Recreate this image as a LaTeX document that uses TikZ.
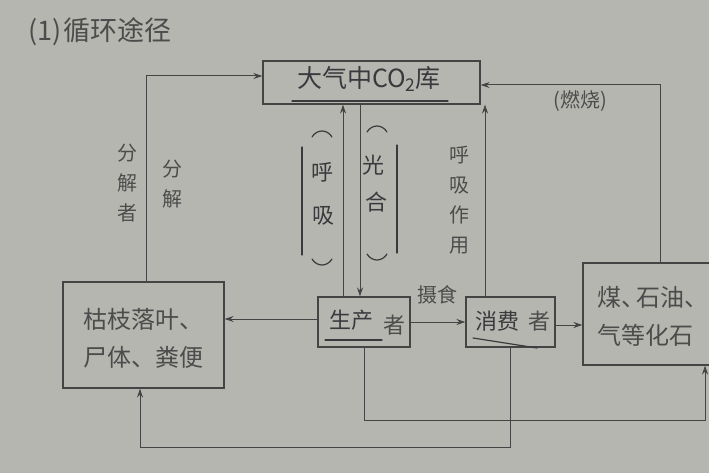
\documentclass[tikz,border=0pt]{standalone}
\usepackage{fontspec}
\setmainfont{Noto Sans CJK SC}
\usetikzlibrary{arrows.meta}
\definecolor{paper}{RGB}{182,182,176}
\definecolor{ink}{RGB}{68,68,68}
\definecolor{txt}{RGB}{76,76,76}
\definecolor{pen}{RGB}{58,58,62}
\begin{document}
\begin{tikzpicture}[x=1pt,y=-1pt,
  box/.style={draw=ink,line width=1.1pt,inner sep=0pt},
  conn/.style={draw=ink,line width=1pt,-{Stealth[length=9pt,width=6pt]}},
  lbl/.style={text=txt,font=\fontsize{20}{30}\selectfont,align=center,inner sep=0pt},
  big/.style={text=txt,font=\fontsize{24}{38}\selectfont,align=left,inner sep=0pt},
  hand/.style={text=pen,font=\fontsize{22}{26}\selectfont,inner sep=0pt},
  penline/.style={draw=pen,line width=1.2pt,line cap=round}]
\useasboundingbox (0,0) rectangle (709,473);
\fill[paper] (0,0) rectangle (709,473);
\clip (0,0) rectangle (709,473);

% title
\node[big,anchor=west,font=\fontsize{27}{30}\selectfont] (title) at (28,32) {(1)\kern2pt循环途径};

% boxes
\node[box,minimum width=217pt,minimum height=43pt] (atm) at (371.5,82.5) {};
\node[hand,font=\fontsize{25}{28}\selectfont] (atmt) at (369,79) {大气中CO\textsubscript{2}库};
\draw[penline] (292,101) -- (448,101);

\node[box,minimum width=161pt,minimum height=106pt] (lit) at (143.5,335) {};
\node[big] (litt) at (143,338) {枯枝落叶、\\尸体、粪便};

\node[box,minimum width=92pt,minimum height=50pt] (prod) at (364,322) {};
\node[hand] (prodh) at (351,320) {生产};
\node[lbl,font=\fontsize{22}{26}\selectfont] (prodz) at (394,325) {者};
\draw[penline] (325,340) -- (382,340);

\node[box,minimum width=89pt,minimum height=50pt] (cons) at (510.5,322) {};
\node[hand] (consh) at (497,321) {消费};
\node[lbl,font=\fontsize{22}{26}\selectfont] (consz) at (539,321) {者};
\draw[penline] (473,338) -- (537,348);

\node[box,minimum width=177pt,minimum height=102pt] (fos) at (671.5,314) {};
\node[big,anchor=west] (fost) at (597,316) {煤、\kern-9pt石油、\\气等化石};

% connectors
\draw[conn] ([xshift=2.5pt]lit.north) |- ([yshift=6.5pt]atm.west);
\draw[conn] ([xshift=-11.5pt]fos.north) |- ([yshift=-2.5pt]atm.east);
\draw[conn] ([xshift=-21pt]prod.north) -- ([xshift=-21pt]prod.north |- atm.south);
\draw[conn] ([xshift=-4pt]atm.south -| prod.north) -- ([xshift=-4pt]prod.north);
\draw[conn] ([xshift=-25.5pt]cons.north) -- ([xshift=-25.5pt]cons.north |- atm.south);
\draw[conn] ([yshift=3pt]prod.west) -- ([yshift=3pt]prod.west -| lit.east);
\draw[conn] (prod.east) -- (prod.east -| cons.west);
\draw[conn] ([yshift=-3pt]cons.east) -- ([yshift=-3pt]cons.east -| fos.west);
\coordinate (pr) at (705,420);
\draw[conn] (prod.south) |- (pr) -- (pr |- fos.south);
\coordinate (lb) at (140,447);
\draw[conn] (cons.south) |- (lb) -- (lb |- lit.south);

% labels
\node[lbl] (shs) at (437,295) {摄食};
\node[lbl] (rs) at (580,101) {(燃烧)};
\node[lbl] (fjz) at (127,183) {分\\解\\者};
\node[lbl] (fj) at (172,184) {分\\解};
\node[lbl] (hxzy) at (459,200) {呼\\吸\\作\\用};

% handwritten brackets
\draw[penline] (312,137) .. controls (317,129) and (327,129) .. (332,137);
\draw[penline] (312,259) .. controls (317,267) and (327,267) .. (332,259);
\draw[penline] (302,147) -- (302,255);
\node[hand] (hu) at (322,172) {呼};
\node[hand] (xi) at (323,216) {吸};
\draw[penline] (367,132) .. controls (372,124) and (382,124) .. (387,132);
\draw[penline] (367,254) .. controls (372,262) and (382,262) .. (387,254);
\draw[penline] (397,145) -- (397,253);
\node[hand] (guang) at (373,165) {光};
\node[hand] (he) at (376,202) {合};
\end{tikzpicture}
\end{document}
